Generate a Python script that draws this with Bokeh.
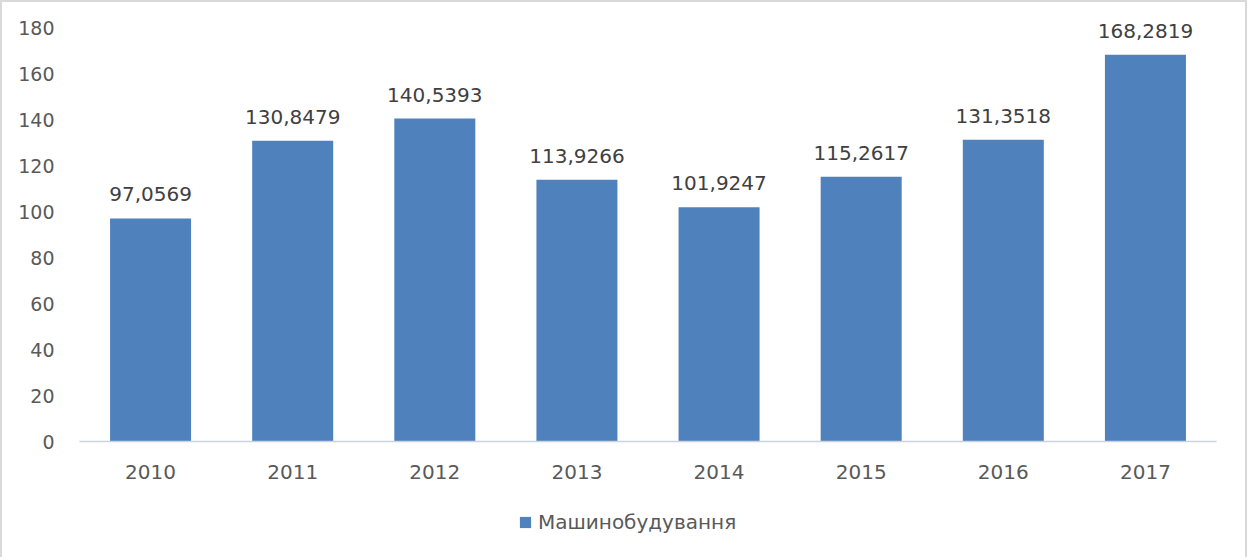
from bokeh.plotting import figure
from bokeh.layouts import column
from bokeh.models import ColumnDataSource, LabelSet, Legend, LegendItem, FixedTicker
from bokeh.core.properties import value
from bokeh.embed import file_html
from bokeh.resources import INLINE

years = ["2010", "2011", "2012", "2013", "2014", "2015", "2016", "2017"]
values = [97.0569, 130.8479, 140.5393, 113.9266, 101.9247, 115.2617, 131.3518, 168.2819]
series_name = "Машинобудування"
y_ticks = [0, 20, 40, 60, 80, 100, 120, 140, 160, 180]

labels = [f"{v:.4f}".replace(".", ",") for v in values]
src = ColumnDataSource(dict(x=years, top=values, lab=labels))

FONT = "DejaVu Sans"
BAR = "#4f81bd"
BORDER = "2px solid #d9d9d9"

p = figure(x_range=years, y_range=(0, 188),
           frame_width=1133, frame_height=430,
           output_backend="svg", toolbar_location=None,
           min_border_left=77, min_border_right=33, min_border_top=7,
           min_border_bottom=58,
           styles={"border-top": BORDER, "border-left": BORDER,
                   "border-right": BORDER})
p.outline_line_color = None
p.background_fill_color = "white"
p.border_fill_color = "white"

r = p.vbar(x="x", top="top", width=0.57, source=src,
           fill_color=BAR, line_color=None)

p.add_layout(LabelSet(x="x", y="top", text="lab", source=src,
                      text_align="center", text_baseline="alphabetic",
                      y_offset=17, text_font=value(FONT), text_font_size="20px",
                      text_color="#404040"))

p.xgrid.grid_line_color = None
p.ygrid.grid_line_color = None

p.yaxis.ticker = FixedTicker(ticks=y_ticks)
p.yaxis.axis_line_color = None
p.yaxis.major_tick_line_color = None
p.yaxis.minor_tick_line_color = None
p.yaxis.major_label_standoff = 19
p.yaxis.major_label_text_font = FONT
p.yaxis.major_label_text_font_size = "19px"
p.yaxis.major_label_text_color = "#595959"

p.xaxis.axis_line_color = "#c9d3e0"
p.xaxis.axis_line_width = 1.5
p.xaxis.major_tick_line_color = None
p.xaxis.minor_tick_line_color = None
p.xaxis.major_label_standoff = 17
p.xaxis.major_label_text_font = FONT
p.xaxis.major_label_text_font_size = "20px"
p.xaxis.major_label_text_color = "#595959"

# legend strip below the chart (same side borders so frames align)
lf = figure(frame_width=1133, frame_height=60, x_range=years, y_range=(1000, 1001),
            x_axis_type=None, y_axis_type=None,
            output_backend="svg", toolbar_location=None,
            min_border_left=77, min_border_right=33, min_border_top=0,
            min_border_bottom=0,
            styles={"border-left": BORDER, "border-right": BORDER})
lf.outline_line_color = None
lf.xgrid.grid_line_color = None
lf.ygrid.grid_line_color = None
lr = lf.vbar(x="x", top="top", width=0.57, source=src,
             fill_color=BAR, line_color=None, visible=False)

legend = Legend(items=[LegendItem(label=series_name, renderers=[lr])],
                orientation="horizontal", location=(439, 23),
                label_text_font=FONT, label_text_font_size="20px",
                label_text_color="#595959", glyph_width=14, glyph_height=14,
                border_line_color=None, background_fill_alpha=0,
                inactive_fill_alpha=0,
                margin=0, padding=0, label_standoff=6)
lf.add_layout(legend, "center")

layout = column(p, lf, spacing=0)
open("out.html", "w").write(file_html(layout, INLINE))
